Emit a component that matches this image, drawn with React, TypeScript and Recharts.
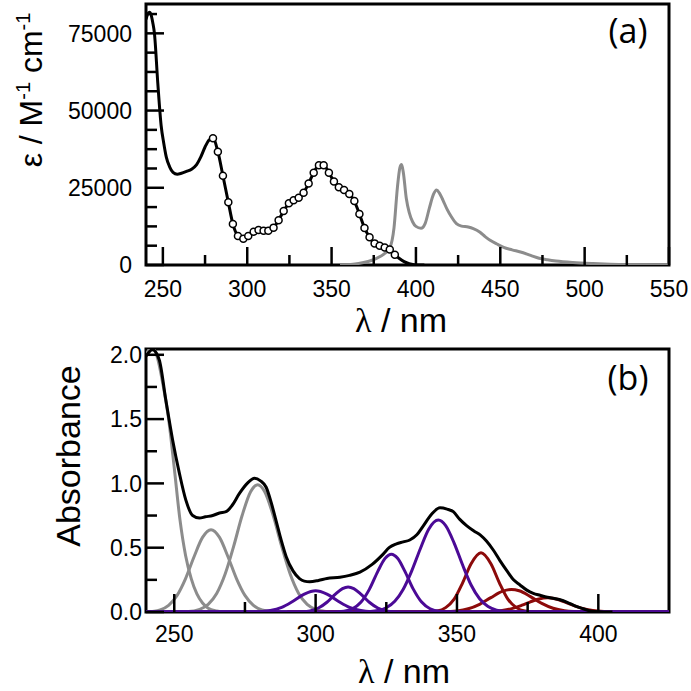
import { ComposedChart, Line, XAxis, YAxis, ReferenceArea } from 'recharts';

// (a) molar absorption (black line + open circles) and emission (gray)
const epsHead = [
  [240, 79500], [241, 81200], [242, 81800], [243, 81000], [244, 78500], [245, 75000],
  [247, 58800], [249, 45000], [250.5, 39500], [252, 35000], [254, 31800], [256, 30000],
  [258.5, 29400], [261, 29700], [264, 30300], [267, 31000], [270, 32500], [272.5, 35000],
  [275, 38200], [277.5, 40500],
];
const epsCircles = [
  [279.7, 41000], [282.6, 36700], [285.6, 28900], [288.8, 20300], [291.5, 13300],
  [294.5, 9400], [297.7, 8500], [300.6, 9400], [303.8, 10800], [306.7, 11300],
  [309.7, 11100], [312.5, 11100], [315.6, 12100], [318.6, 14500], [321.6, 17500],
  [324.7, 20000], [327.5, 21000], [330.5, 21800], [333.4, 23400], [336.4, 26400],
  [339.4, 29900], [342.5, 32300], [345.3, 32300], [348.4, 29900], [351.4, 27000],
  [354.3, 25200], [357.4, 24300], [360.5, 23000], [363.5, 20700], [366.5, 16500],
  [369.5, 12000], [372.5, 9000], [375.5, 7000], [378.5, 6200], [381.5, 5700],
  [384.5, 5000], [387.5, 3300],
];
const epsTail = [[390, 2200], [393, 1100], [396, 400], [400, 0], [405, 0]];
const emission = [
  [355, 0], [366, 500], [376, 2000], [381, 3500], [384.5, 5500], [387, 12000],
  [389, 25000], [390.5, 31500], [391.5, 32500], [392.5, 30000], [394.3, 21500],
  [396, 17000], [398, 14000], [400, 12500], [403, 11900], [405.5, 13500], [408, 18500],
  [410.5, 23000], [412.2, 24300], [414, 23200], [416, 21000], [418.5, 18000],
  [421, 15600], [424, 13400], [427, 12600], [431, 12300], [434, 11800], [438, 10600],
  [441, 9200], [444, 8000], [448, 6800], [452, 5700], [457, 4900], [462, 4200],
  [468, 3100], [473, 2200], [478, 1700], [483, 1300], [493, 800], [505, 450],
  [515, 250], [530, 100], [550, 0],
];
const xTicksA = [250, 275, 300, 325, 350, 375, 400, 425, 450, 475, 500, 525, 550];
const yTicksA = [0, 6250, 12500, 18750, 25000, 31250, 37500, 43750, 50000, 56250, 62500, 68750, 75000, 81250];

// (b) absorbance and its gaussian components
const absTotal = [
  [240, 1.99], [242.3, 2.04], [244.7, 1.96], [247, 1.65], [249.4, 1.34], [251.8, 1.08],
  [254.1, 0.87], [256.5, 0.75], [258.9, 0.73], [261, 0.74], [263.6, 0.75], [266, 0.77],
  [268.3, 0.78], [270.5, 0.83], [273, 0.92], [275.8, 1.0], [278.4, 1.04], [280.5, 1.02],
  [282.5, 0.97], [284.3, 0.85], [286, 0.71], [287.8, 0.56], [289.6, 0.43], [292, 0.32],
  [294.3, 0.26], [296, 0.24], [297.9, 0.235], [301, 0.245], [304, 0.26], [308.6, 0.27],
  [312, 0.285], [315.7, 0.31], [320, 0.37], [323.9, 0.45], [326, 0.5], [328.6, 0.53],
  [331, 0.545], [333.3, 0.56], [335.8, 0.6], [338.1, 0.67], [341, 0.76], [344, 0.81],
  [346.5, 0.8], [348.7, 0.78], [351, 0.72], [353.5, 0.67], [356, 0.63], [358.2, 0.6],
  [360.5, 0.55], [362.9, 0.48], [365.2, 0.4], [368, 0.31], [370, 0.25], [372.3, 0.21],
  [374.7, 0.17], [377, 0.145], [379.4, 0.13], [382, 0.115], [384.5, 0.105], [386.5, 0.095],
  [389, 0.075], [391.5, 0.05], [394, 0.03], [396.5, 0.012], [399, 0.003], [402, 0], [405, 0],
];
const gray1 = [
  [240, 2.0], [242, 2.06], [244, 1.98], [246, 1.77], [248, 1.5], [250, 1.12], [252, 0.72],
  [254, 0.44], [256, 0.26], [258, 0.14], [260, 0.07], [262, 0.03], [265, 0.008], [268, 0], [300, 0],
];
const gray2 = [
  [240, 0], [245, 0.017], [248, 0.052], [251, 0.129], [254, 0.26], [257, 0.43], [260, 0.58],
  [263, 0.64], [266, 0.58], [269, 0.43], [272, 0.26], [275, 0.129], [278, 0.052],
  [281, 0.017], [285, 0.003], [290, 0], [300, 0],
];
const gray3 = [
  [240, 0], [255, 0.004], [259, 0.021], [262, 0.06], [265, 0.144], [268, 0.295], [271, 0.51],
  [274, 0.75], [277, 0.935], [279.5, 0.99], [282, 0.935], [285, 0.75], [288, 0.51],
  [291, 0.295], [294, 0.144], [297, 0.06], [300, 0.021], [303, 0.006], [306, 0],
];
const purple1 = [
  [240, 0], [276, 0], [280, 0.0025], [284, 0.011], [288, 0.036], [292, 0.084], [296, 0.139],
  [300, 0.165], [304, 0.139], [308, 0.084], [312, 0.036], [316, 0.011], [320, 0.0025],
  [325, 0], [425, 0],
];
const purple2 = [
  [240, 0], [292, 0], [295, 0.002], [298, 0.009], [301, 0.031], [304, 0.076], [307, 0.139],
  [309.5, 0.182], [311.5, 0.195], [313.5, 0.182], [316, 0.139], [319, 0.076], [322, 0.031],
  [325, 0.009], [328, 0.002], [332, 0], [425, 0],
];
const purple3 = [
  [240, 0], [306, 0], [310, 0.006], [313, 0.024], [316, 0.075], [319, 0.176], [322, 0.316],
  [324.5, 0.415], [326.8, 0.45], [329, 0.418], [331.5, 0.32], [334.5, 0.18], [337.5, 0.077],
  [340.5, 0.025], [344, 0.005], [348, 0], [425, 0],
];
const purple4 = [
  [240, 0], [316, 0], [319, 0.003], [322, 0.011], [325, 0.033], [328, 0.083], [331, 0.177],
  [334, 0.32], [337, 0.49], [340, 0.644], [343.4, 0.715], [346, 0.672], [349, 0.536],
  [352, 0.365], [355, 0.21], [358, 0.103], [361, 0.043], [364, 0.015], [367, 0.005],
  [371, 0], [425, 0],
];
const red1 = [
  [290, 0], [337, 0], [340, 0.002], [343, 0.008], [346, 0.034], [349, 0.1], [352, 0.227],
  [355, 0.375], [358.5, 0.46], [362, 0.375], [365, 0.227], [368, 0.1], [371, 0.034],
  [374, 0.008], [377, 0.002], [381, 0], [425, 0],
];
const red2 = [
  [290, 0], [340, 0], [345, 0.0013], [350, 0.008], [354, 0.025], [358, 0.06], [362, 0.112],
  [366, 0.16], [369.3, 0.175], [372, 0.165], [376, 0.12], [380, 0.067], [384, 0.029],
  [388, 0.0095], [392, 0.0024], [396, 0], [425, 0],
];
const red3 = [
  [290, 0], [358, 0], [362, 0.003], [366, 0.011], [370, 0.03], [373, 0.053], [376, 0.079],
  [379, 0.101], [382, 0.11], [385, 0.101], [388, 0.079], [391, 0.053], [394, 0.03],
  [398, 0.011], [402, 0.003], [407, 0], [425, 0],
];
const xTicksB = [250, 275, 300, 325, 350, 375, 400];
const yTicksB = [0, 0.25, 0.5, 0.75, 1.0, 1.25, 1.5, 1.75, 2.0];

const pts = (a: number[][]) => a.map(([x, y]) => ({ x, y }));
const FONT = '"Liberation Sans", Arial, sans-serif';
const GRAY = '#8c8c8c';
const PURPLE = '#4b0a96';
const RED = '#8c0a0a';

const xTick = (labelDy: number) => (props: any) => {
  const { x, y, payload } = props;
  const major = payload.value % 50 === 0;
  return (
    <g>
      <line x1={x} x2={x} y1={y} y2={y - (major ? 18 : 10)} stroke="#000" strokeWidth={2.5} />
      {major && (
        <text x={x} y={y + labelDy} textAnchor="middle" fontSize={23} fontFamily={FONT} fill="#000">
          {payload.value}
        </text>
      )}
    </g>
  );
};

const yTick = (gap: number, isMajor: (v: number) => boolean, fmt: (v: number) => string) => (props: any) => {
  const { x, y, payload } = props;
  const major = isMajor(payload.value);
  return (
    <g>
      <line x1={x} x2={x + (major ? 18 : 11)} y1={y} y2={y} stroke="#000" strokeWidth={2.5} />
      {major && (
        <text x={x - gap} y={y} dy="0.36em" textAnchor="end" fontSize={23} fontFamily={FONT} fill="#000">
          {fmt(payload.value)}
        </text>
      )}
    </g>
  );
};

const line = (data: number[][], color: string, width = 3) => (
  <Line
    data={pts(data)}
    dataKey="y"
    type="monotone"
    stroke={color}
    strokeWidth={width}
    dot={false}
    isAnimationActive={false}
  />
);

export default function App() {
  return (
    <div style={{ position: 'absolute', left: 0, top: 0, width: 691, height: 691, background: '#fff' }}>
      <div style={{ position: 'absolute', left: 0, top: 0 }}>
        <ComposedChart width={691} height={345} margin={{ top: 4, right: 22, bottom: 40, left: 86 }}>
          <XAxis
            type="number"
            dataKey="x"
            domain={[240, 550]}
            ticks={xTicksA}
            interval={0}
            height={40}
            tickSize={0}
            tickMargin={0}
            tickLine={false}
            axisLine={false}
            tick={xTick(31.5)}
            allowDataOverflow
          />
          <YAxis
            type="number"
            domain={[0, 84500]}
            ticks={yTicksA}
            interval={0}
            width={60}
            tickSize={0}
            tickMargin={0}
            tickLine={false}
            axisLine={false}
            tick={yTick(14, (v) => v % 25000 === 0, (v) => String(v))}
            allowDataOverflow
          />
          <ReferenceArea x1={240} x2={550} y1={0} y2={84500} fill="none" stroke="#000" strokeWidth={3} />
          {line(emission, GRAY)}
          {line([...epsHead, ...epsCircles, ...epsTail], '#000')}
          <Line
            data={pts(epsCircles)}
            dataKey="y"
            stroke="none"
            dot={{ r: 3.5, fill: '#fff', stroke: '#000', strokeWidth: 1.5 }}
            isAnimationActive={false}
          />
        </ComposedChart>
      </div>
      <div style={{ position: 'absolute', left: 0, top: 345 }}>
        <ComposedChart width={691} height={346} margin={{ top: 4, right: 22, bottom: 39, left: 86 }}>
          <XAxis
            type="number"
            dataKey="x"
            domain={[240, 425]}
            ticks={xTicksB}
            interval={0}
            height={40}
            tickSize={0}
            tickMargin={0}
            tickLine={false}
            axisLine={false}
            tick={xTick(30)}
            allowDataOverflow
          />
          <YAxis
            type="number"
            domain={[0, 2.045]}
            ticks={yTicksB}
            interval={0}
            width={60}
            tickSize={0}
            tickMargin={0}
            tickLine={false}
            axisLine={false}
            tick={yTick(4, (v) => Math.abs(v * 2 - Math.round(v * 2)) < 1e-6, (v) => v.toFixed(1))}
            allowDataOverflow
          />
          <ReferenceArea x1={240} x2={425} y1={0} y2={2.045} fill="none" stroke="#000" strokeWidth={3} />
          {line(gray1, GRAY)}
          {line(gray2, GRAY)}
          {line(gray3, GRAY)}
          {line(red1, RED)}
          {line(red2, RED)}
          {line(red3, RED)}
          {line(purple1, PURPLE)}
          {line(purple2, PURPLE)}
          {line(purple3, PURPLE)}
          {line(purple4, PURPLE)}
          {line(absTotal, '#000')}
        </ComposedChart>
      </div>
      <svg
        width={691}
        height={691}
        style={{ position: 'absolute', left: 0, top: 0, pointerEvents: 'none' }}
        fontFamily={FONT}
      >
        <text x={628} y={43} textAnchor="middle" fontSize={34} fontFamily='"Open Sans", sans-serif'>(a)</text>
        <text x={628} y={390} textAnchor="middle" fontSize={34} fontFamily='"Open Sans", sans-serif'>(b)</text>
        <text x={42} y={90} textAnchor="middle" fontSize={32} transform="rotate(-90 42 90)">
          ε / M<tspan dy={-12} fontSize={20}>-1</tspan>
          <tspan dy={12}> cm</tspan>
          <tspan dy={-12} fontSize={20}>-1</tspan>
        </text>
        <text x={80} y={456} textAnchor="middle" fontSize={34} transform="rotate(-90 80 456)">Absorbance</text>
        <text x={401} y={331.5} textAnchor="middle" fontSize={34}>
          <tspan fontFamily='"Liberation Serif", serif'>λ</tspan> / nm
        </text>
        <text x={404} y={683} textAnchor="middle" fontSize={34}>
          <tspan fontFamily='"Liberation Serif", serif'>λ</tspan> / nm
        </text>
      </svg>
    </div>
  );
}
